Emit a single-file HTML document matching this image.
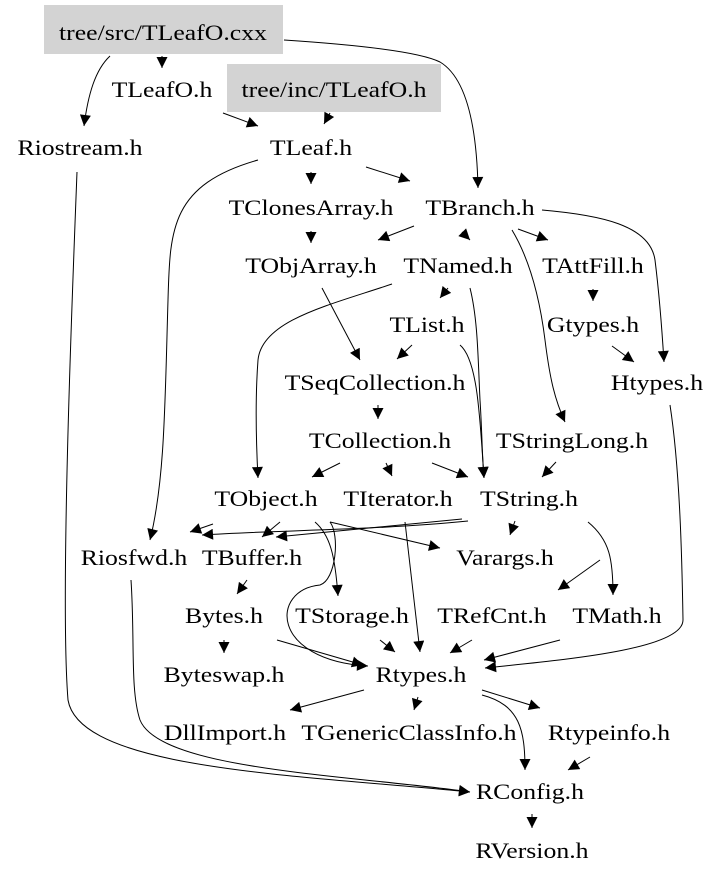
<!DOCTYPE html>
<html><head><meta charset="utf-8"><style>
html,body{margin:0;padding:0;background:#fff;}
svg{display:block;}
text{font-family:"Liberation Serif",serif;font-size:22px;fill:#000;text-anchor:middle;transform-box:fill-box;transform-origin:center;transform:scaleX(1.17);}
path{fill:none;stroke:#000;stroke-width:1;}
</style></head><body>
<svg width="723" height="880" viewBox="0 0 723 880">
<defs><marker id="a" viewBox="0 0 10 10" refX="10" refY="5" markerWidth="13" markerHeight="11" markerUnits="userSpaceOnUse" orient="auto"><path d="M0,0 L10,5 L0,10 z" style="fill:#000;stroke:none"/></marker></defs>
<rect x="44" y="5" width="239" height="49" fill="#d3d3d3"/>
<rect x="227" y="64" width="214" height="48" fill="#d3d3d3"/>
<g marker-end="url(#a)">
<path d="M162,56 L162,68"/>
<path d="M110,56 C95,70 88,95 84,126"/>
<path d="M284,40 C360,45 420,52 440,62 C470,80 477,140 478,188"/>
<path d="M223,113 L258,126"/>
<path d="M330,113 L324,124"/>
<path d="M77,172 C72,300 60,600 68,700 C80,770 300,775 470,792"/>
<path d="M258,160 C170,185 170,230 168,300 C165,400 165,480 150,540"/>
<path d="M311,172 L311,184"/>
<path d="M366,167 L410,181"/>
<path d="M311,231 L311,243"/>
<path d="M414,226 L378,240"/>
<path d="M462,232 L470,240"/>
<path d="M518,229 L548,240"/>
<path d="M542,210 C600,215 650,225 655,260 C660,300 662,330 664,362"/>
<path d="M512,230 C530,260 540,300 545,340 C550,380 555,400 565,422"/>
<path d="M322,288 L360,360"/>
<path d="M392,284 C330,305 262,320 258,360 C255,400 256,440 258,478"/>
<path d="M448,288 L440,298"/>
<path d="M470,288 C478,320 478,360 480,400 C482,430 482,455 484,478"/>
<path d="M593,289 L593,301"/>
<path d="M612,346 L634,362"/>
<path d="M412,345 L397,359"/>
<path d="M460,345 C478,360 480,420 484,478"/>
<path d="M378,405 L378,419"/>
<path d="M340,463 L312,477"/>
<path d="M386,463 L392,476"/>
<path d="M432,463 L468,477"/>
<path d="M556,462 L542,477"/>
<path d="M213,524 L190,532"/>
<path d="M280,522 L262,537"/>
<path d="M330,522 L440,548"/>
<path d="M315,522 C330,535 335,555 338,596"/>
<path d="M330,522 C340,535 336,580 320,585 C270,590 270,660 368,666"/>
<path d="M405,522 L420,652"/>
<path d="M468,521 C380,530 280,530 202,535"/>
<path d="M462,519 L276,537"/>
<path d="M600,560 L558,590"/>
<path d="M588,522 C610,540 613,560 613,595"/>
<path d="M515,521 L510,535"/>
<path d="M131,580 C135,640 130,690 140,720 C160,770 350,775 470,792"/>
<path d="M247,580 L237,594"/>
<path d="M224,640 L224,653"/>
<path d="M277,640 L363,665"/>
<path d="M380,640 L395,652"/>
<path d="M472,640 L450,653"/>
<path d="M560,640 L484,660"/>
<path d="M670,405 C680,470 682,560 683,620 C683,650 560,660 485,668"/>
<path d="M364,690 L290,710"/>
<path d="M418,697 L414,710"/>
<path d="M482,690 L540,708"/>
<path d="M482,695 C520,705 525,730 525,770"/>
<path d="M590,757 L568,770"/>
<path d="M532,814 L532,828"/>
</g>
<text x="163" y="40">tree/src/TLeafO.cxx</text>
<text x="162" y="97">TLeafO.h</text>
<text x="334" y="97">tree/inc/TLeafO.h</text>
<text x="80" y="155">Riostream.h</text>
<text x="311" y="155">TLeaf.h</text>
<text x="311" y="215">TClonesArray.h</text>
<text x="480" y="215">TBranch.h</text>
<text x="311" y="273">TObjArray.h</text>
<text x="458" y="273">TNamed.h</text>
<text x="593" y="273">TAttFill.h</text>
<text x="427" y="332">TList.h</text>
<text x="593" y="332">Gtypes.h</text>
<text x="375" y="390">TSeqCollection.h</text>
<text x="657" y="390">Htypes.h</text>
<text x="380" y="448">TCollection.h</text>
<text x="572" y="448">TStringLong.h</text>
<text x="266" y="506">TObject.h</text>
<text x="398" y="506">TIterator.h</text>
<text x="529" y="506">TString.h</text>
<text x="134" y="565">Riosfwd.h</text>
<text x="252" y="565">TBuffer.h</text>
<text x="505" y="565">Varargs.h</text>
<text x="224" y="623">Bytes.h</text>
<text x="352" y="623">TStorage.h</text>
<text x="492" y="623">TRefCnt.h</text>
<text x="617" y="623">TMath.h</text>
<text x="224" y="682">Byteswap.h</text>
<text x="421" y="682">Rtypes.h</text>
<text x="225" y="740">DllImport.h</text>
<text x="409" y="740">TGenericClassInfo.h</text>
<text x="609" y="740">Rtypeinfo.h</text>
<text x="530" y="799">RConfig.h</text>
<text x="532" y="858">RVersion.h</text>
</svg>
</body></html>
